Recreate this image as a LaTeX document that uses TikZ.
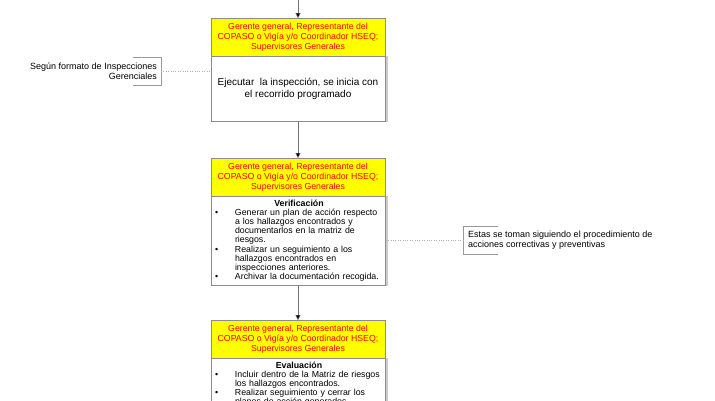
\documentclass[tikz,border=0pt]{standalone}
\usepackage{fontspec}
\setmainfont{Liberation Sans}
\usepackage{tikz}
\usetikzlibrary{arrows.meta,positioning,calc}

\definecolor{amarillo}{HTML}{FFFF00}
\definecolor{rojo}{HTML}{FF0000}
\definecolor{borde}{HTML}{8C8C8C}

\newcommand{\vineta}[1]{\par\noindent\hangindent=21pt\hangafter=1\makebox[21pt][l]{\hspace{1pt}\textbullet}#1\par}

\begin{document}
\begin{tikzpicture}[x=1pt,y=-1pt,
    cargo/.style={draw=borde,fill=amarillo,text=rojo,minimum width=174pt,minimum height=38pt,
      inner sep=0pt,align=center,font=\fontsize{8.75}{10}\selectfont,anchor=north},
    tarea/.style={draw=borde,fill=white,minimum width=174pt,inner sep=0pt,anchor=north},
    flecha/.style={draw=black!55,-{Triangle[width=5pt,length=5pt,fill=black]}},
    guia/.style={draw=black!30,dotted},
    corchete/.style={draw=black!40},
    nota/.style={font=\fontsize{9}{10}\selectfont,inner sep=0pt}]
  \useasboundingbox (0,0) rectangle (715,400);
  \clip (0,0) rectangle (715,400);
  % primer paso: ejecutar la inspección
  \coordinate (inicio) at (298,0);
  \node[cargo] (cargo1) at (298,18) {Gerente general, Representante del\\COPASO o Vigía y/o Coordinador HSEQ;\\Supervisores Generales};
  \node[tarea,minimum height=65pt,align=center,font=\fontsize{10}{12.5}\selectfont] (ejecutar) at (cargo1.south)
    {Ejecutar\ \ la inspección, se inicia con\\el recorrido programado};
  \draw[black!20,line width=2pt] ([xshift=2pt]ejecutar.north east) -- ([xshift=2pt]ejecutar.south east);
  % segundo paso: verificación
  \node[cargo] (cargo2) at (298,158) {Gerente general, Representante del\\COPASO o Vigía y/o Coordinador HSEQ;\\Supervisores Generales};
  \node[tarea,minimum height=89pt] (verificar) at (cargo2.south) {};
  \draw[black!20,line width=2pt] ([xshift=2pt]verificar.north east) -- ([xshift=2pt]verificar.south east);
  \node[anchor=north west,inner sep=0pt,text width=170pt,font=\fontsize{8.8}{9.2}\selectfont] (listaV)
    at ([xshift=3pt,yshift=-3pt]verificar.north west)
    {\centerline{\textbf{Verificación}}
     \vineta{Generar un plan de acción respecto\newline a los hallazgos encontrados y\newline documentarlos en la matriz de\newline riesgos.}
     \vineta{Realizar un seguimiento a los\newline hallazgos encontrados en\newline inspecciones anteriores.}
     \vineta{Archivar la documentación recogida.}};
  % tercer paso: evaluación
  \node[cargo] (cargo3) at (298,320) {Gerente general, Representante del\\COPASO o Vigía y/o Coordinador HSEQ;\\Supervisores Generales};
  \node[tarea,minimum height=80pt] (evaluar) at (cargo3.south) {};
  \draw[black!20,line width=2pt] ([xshift=2pt]evaluar.north east) -- ([xshift=2pt]evaluar.south east);
  \node[anchor=north west,inner sep=0pt,text width=170pt,font=\fontsize{8.8}{9.2}\selectfont] (listaE)
    at ([xshift=3pt,yshift=-3pt]evaluar.north west)
    {\centerline{\textbf{Evaluación}}
     \vineta{Incluir dentro de la Matriz de riesgos\newline los hallazgos encontrados.}
     \vineta{Realizar seguimiento y cerrar los\newline planes de acción generados.}};
  % flechas entre pasos
  \draw[flecha] (inicio) -- (cargo1.north);
  \draw[flecha] (ejecutar.south) -- (cargo2.north);
  \draw[flecha] (verificar.south) -- (cargo3.north);
  % notas laterales
  \node[nota,anchor=east,align=right] (nota1) at (157,71) {Según formato de Inspecciones\\Gerenciales};
  \draw[corchete] (133,57) -- (161,57) -- (161,85) -- (133,85);
  \coordinate (c1) at (161,71);
  \draw[guia] (c1) -- (c1 -| ejecutar.west);
  \node[nota,anchor=west,align=left] (nota2) at (468,240) {Estas se toman siguiendo el procedimiento de\\acciones correctivas y preventivas};
  \draw[corchete] (498,226) -- (463,226) -- (463,254) -- (498,254);
  \coordinate (c2) at (463,240);
  \draw[guia] (c2) -- (c2 -| verificar.east);
\end{tikzpicture}
\end{document}
